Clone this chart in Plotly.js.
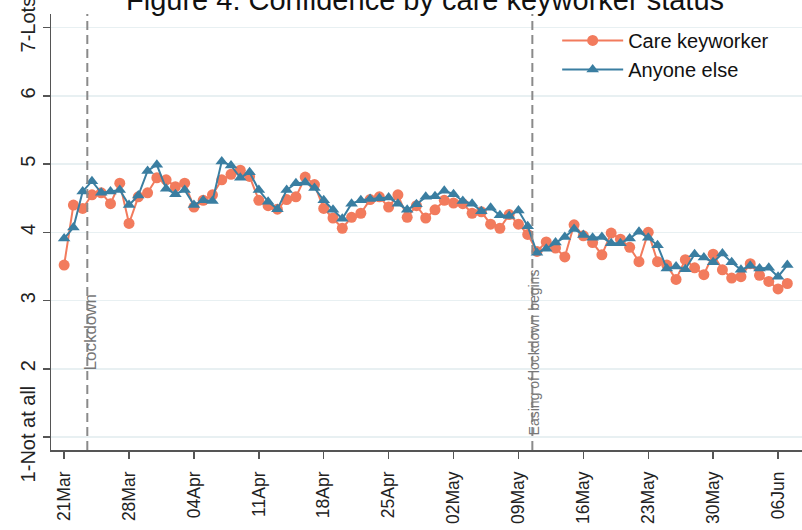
<!DOCTYPE html>
<html>
<head>
<meta charset="utf-8">
<script src="https://cdn.plot.ly/plotly-3.0.1.min.js"></script>
<style>
  body { margin: 0; background: #fff; }
  #chart { width: 802px; height: 530px; }
</style>
</head>
<body>
<div id="chart"></div>
<script>
// daily survey dates, 21 Mar to 07 Jun 2020
let dates = [
  '2020-03-21','2020-03-22','2020-03-23','2020-03-24','2020-03-25','2020-03-26','2020-03-27',
  '2020-03-28','2020-03-29','2020-03-30','2020-03-31','2020-04-01','2020-04-02','2020-04-03',
  '2020-04-04','2020-04-05','2020-04-06','2020-04-07','2020-04-08','2020-04-09','2020-04-10',
  '2020-04-11','2020-04-12','2020-04-13','2020-04-14','2020-04-15','2020-04-16','2020-04-17',
  '2020-04-18','2020-04-19','2020-04-20','2020-04-21','2020-04-22','2020-04-23','2020-04-24',
  '2020-04-25','2020-04-26','2020-04-27','2020-04-28','2020-04-29','2020-04-30','2020-05-01',
  '2020-05-02','2020-05-03','2020-05-04','2020-05-05','2020-05-06','2020-05-07','2020-05-08',
  '2020-05-09','2020-05-10','2020-05-11','2020-05-12','2020-05-13','2020-05-14','2020-05-15',
  '2020-05-16','2020-05-17','2020-05-18','2020-05-19','2020-05-20','2020-05-21','2020-05-22',
  '2020-05-23','2020-05-24','2020-05-25','2020-05-26','2020-05-27','2020-05-28','2020-05-29',
  '2020-05-30','2020-05-31','2020-06-01','2020-06-02','2020-06-03','2020-06-04','2020-06-05',
  '2020-06-06','2020-06-07'
]

let careKeyworker = [
  3.52, 4.40, 4.35, 4.55, 4.58, 4.42, 4.72,
  4.13, 4.52, 4.58, 4.80, 4.77, 4.67, 4.72,
  4.37, 4.47, 4.55, 4.77, 4.85, 4.91, 4.82,
  4.47, 4.39, 4.34, 4.48, 4.52, 4.81, 4.70,
  4.35, 4.21, 4.06, 4.22, 4.28, 4.48, 4.52,
  4.37, 4.55, 4.22, 4.39, 4.21, 4.33, 4.47,
  4.43, 4.42, 4.28, 4.30, 4.12, 4.06, 4.26,
  4.12, 3.97, 3.72, 3.86, 3.77, 3.64, 4.11,
  3.95, 3.85, 3.67, 3.99, 3.90, 3.78, 3.57,
  4.00, 3.57, 3.52, 3.31, 3.60, 3.48, 3.38,
  3.68, 3.45, 3.33, 3.35, 3.54, 3.37, 3.28,
  3.17, 3.25
]

let anyoneElse = [
  3.91, 4.07, 4.60, 4.75, 4.58, 4.60, 4.62,
  4.40, 4.54, 4.90, 4.99, 4.64, 4.56, 4.62,
  4.40, 4.47, 4.46, 5.04, 4.98, 4.80, 4.88,
  4.62, 4.45, 4.34, 4.62, 4.72, 4.73, 4.65,
  4.47, 4.33, 4.20, 4.42, 4.47, 4.49, 4.50,
  4.51, 4.42, 4.33, 4.41, 4.52, 4.53, 4.61,
  4.56, 4.46, 4.42, 4.31, 4.36, 4.25, 4.24,
  4.32, 4.09, 3.70, 3.76, 3.85, 3.93, 4.05,
  3.96, 3.92, 3.93, 3.84, 3.84, 3.91, 4.01,
  3.92, 3.81, 3.47, 3.50, 3.46, 3.68, 3.63,
  3.56, 3.69, 3.56, 3.45, 3.51, 3.47, 3.48,
  3.35, 3.52
]

let yTickVals = [1, 2, 3, 4, 5, 6, 7]
let yTickText = ['1-Not at all', '2', '3', '4', '5', '6', '7-Lots']

let eventDates = ['2020-03-23 12:00', '2020-05-10 12:00']
let eventLabels = ['Lockdown', 'Easing of lockdown begins']
let eventLabelY = [1.95, 1.0]

let orange = '#F27B5D'
let blue = '#3A7EA1'
let font = 'Arial, "Liberation Sans", sans-serif'

let traces = [
  {
    x: dates, y: careKeyworker, name: 'Care keyworker',
    type: 'scatter', mode: 'lines+markers',
    line: {color: orange, width: 2},
    marker: {symbol: 'circle', size: 11, color: orange}
  },
  {
    x: dates, y: anyoneElse, name: 'Anyone else',
    type: 'scatter', mode: 'lines+markers',
    line: {color: blue, width: 2},
    marker: {symbol: 'triangle-up', size: 11, color: blue}
  }
]

let shapes = eventDates.map(d => ({
  type: 'line', xref: 'x', yref: 'paper',
  x0: d, x1: d, y0: 0, y1: 1,
  line: {color: '#8a8a8a', width: 2, dash: '9px,5px'}
}))

let labelSizes = [17, 14]
let annotations = eventDates.map((d, i) => ({
  x: d, y: eventLabelY[i], xref: 'x', yref: 'y',
  text: eventLabels[i], textangle: -90, showarrow: false,
  xanchor: 'left', yanchor: 'bottom', xshift: -8,
  font: {family: font, size: labelSizes[i], color: '#777'}
}))

let layout = {
  width: 802, height: 530,
  margin: {l: 51, r: 0, t: 14, b: 80},
  paper_bgcolor: '#fff', plot_bgcolor: '#fff',
  font: {family: font, color: '#222'},
  title: {
    text: 'Figure 4: Confidence by care keyworker status',
    font: {family: font, size: 29, color: '#111'},
    x: 0.53, xanchor: 'center', yref: 'container', y: 0.982, yanchor: 'bottom'
  },
  xaxis: {
    type: 'date',
    range: ['2020-03-19 14:00', '2020-06-08 14:00'],
    tick0: '2020-03-21', dtick: 7 * 86400000,
    tickformat: '%d%b', tickangle: -90,
    ticks: 'outside', ticklen: 7, tickwidth: 1.5, tickcolor: '#555',
    ticklabelstandoff: 6,
    tickfont: {family: font, size: 17.5, color: '#222'},
    showline: true, linecolor: '#555', linewidth: 1.5,
    showgrid: false, zeroline: false
  },
  yaxis: {
    range: [0.81, 7.2],
    tickvals: yTickVals, ticktext: yTickText, tickangle: -90,
    ticks: 'outside', ticklen: 7, tickwidth: 1.5, tickcolor: '#555',
    ticklabeloverflow: 'allow',
    tickfont: {family: font, size: 20, color: '#222'},
    showline: true, linecolor: '#555', linewidth: 1.5,
    showgrid: true, gridcolor: '#E8F0F2', gridwidth: 1.5,
    zeroline: false
  },
  showlegend: true,
  legend: {
    x: 0.674, y: 0.984, xanchor: 'left', yanchor: 'top',
    bgcolor: 'rgba(255,255,255,0)',
    font: {family: font, size: 20, color: '#111'},
    itemwidth: 61, tracegroupgap: 0
  },
  shapes: shapes,
  annotations: annotations,
  hovermode: false
}

Plotly.newPlot('chart', traces, layout, {staticPlot: true})
</script>
</body>
</html>
